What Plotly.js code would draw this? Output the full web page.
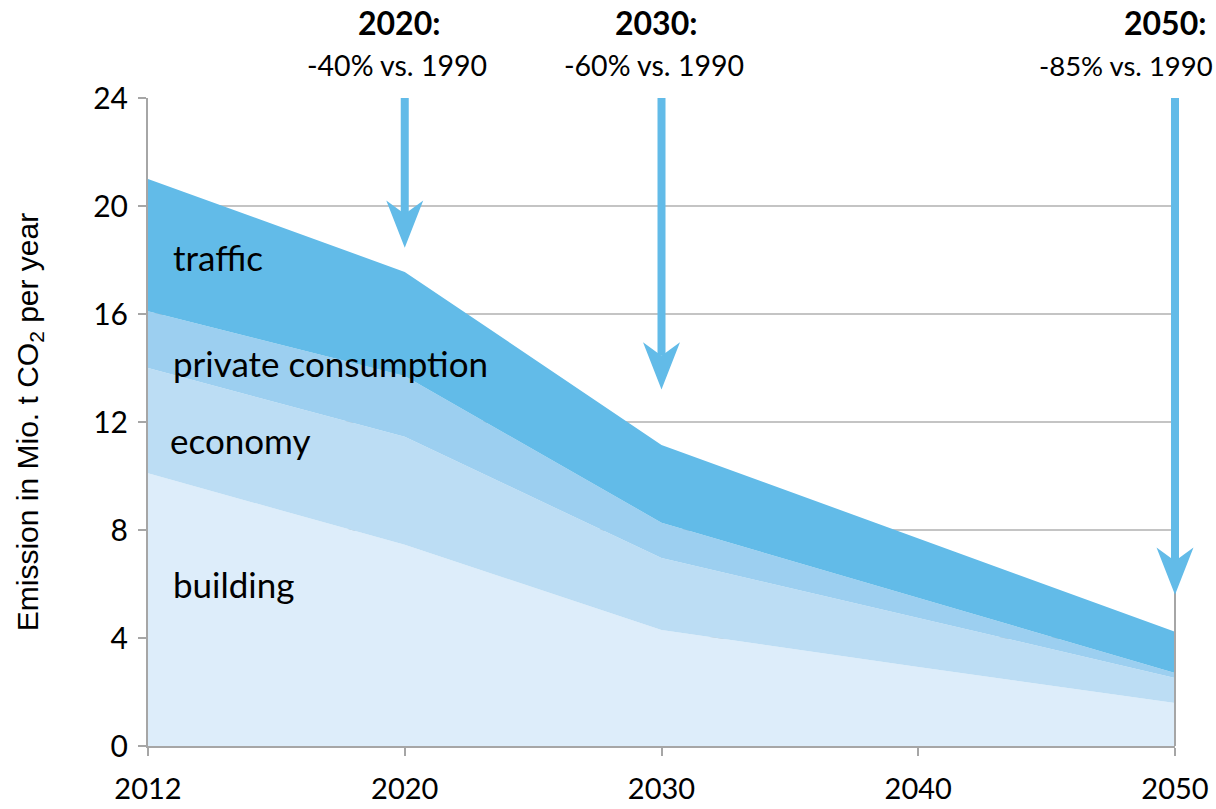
<!DOCTYPE html>
<html>
<head>
<meta charset="utf-8">
<script src="https://cdn.plot.ly/plotly-3.0.1.min.js"></script>
<style>html,body{margin:0;padding:0;background:#fff;}#chart{width:1216px;height:809px;}</style>
</head>
<body>
<div id="chart"></div>
<script>
// ---- data (Mio. t CO2 per year, stacked shares) ----
const years = ['2012', '2020', '2030', '2040', '2050'];
const building = [10.1, 7.45, 4.3, 2.93, 1.59];
const economy = [3.9, 4.0, 2.66, 1.81, 0.93];
const privateConsumption = [2.1, 2.25, 1.31, 0.74, 0.18];
const traffic = [4.9, 3.86, 2.88, 2.22, 1.53];
const seriesNames = ['building', 'economy', 'private consumption', 'traffic'];
const labelLevels = [6.0, 11.35, 14.2, 18.1];
const yTicks = [0, 4, 8, 12, 16, 20, 24];
const targetYears = ['2020', '2030', '2050'];
const targetTitles = ['2020:', '2030:', '2050:'];
const targetTexts = ['-40% vs. 1990', '-60% vs. 1990', '-85% vs. 1990'];
const targetTips = [18.45, 13.2, 5.6];

const xIdx = years.map((_, i) => i);
const yMax = 24;
const fills = ['#ddedfa', '#bcddf4', '#9ccff0', '#62bbe8'];
const arrowColor = '#62bbe8';
const calibriLike = 'Lato, "Noto Sans", sans-serif';

const seriesValues = [building, economy, privateConsumption, traffic];
const traces = seriesValues.map((vals, k) => ({
  type: 'scatter',
  mode: 'lines',
  x: xIdx,
  y: vals,
  name: seriesNames[k],
  stackgroup: 'one',
  line: {width: 0, color: fills[k]},
  fillcolor: fills[k],
  hoverinfo: 'x+y+name'
}));

const nSeg = years.length - 1;
const px = i => i / nSeg;       // x index -> paper
const py = v => v / yMax;       // y value -> paper

const shapes = [
  // right-hand border line at 2050
  {type: 'line', xref: 'paper', yref: 'paper', x0: 1, x1: 1, y0: 0, y1: 1,
   line: {color: '#a6a6a6', width: 2}, layer: 'above'}
];
const annotations = [];
const hl = 1.75;   // arrowhead length (data units)
const hw = 0.018;  // arrowhead half width (paper units)
const notch = 0.5;
targetYears.forEach((yr, i) => {
  const xi = px(years.indexOf(yr));
  const tip = targetTips[i];
  shapes.push({type: 'line', xref: 'paper', yref: 'paper', x0: xi, x1: xi, y0: 1, y1: py(tip + hl - notch),
    line: {color: arrowColor, width: 8}, layer: 'above'});
  shapes.push({type: 'path', xref: 'paper', yref: 'paper', layer: 'above',
    path: `M ${xi - hw} ${py(tip + hl)} L ${xi} ${py(tip + hl - notch)} L ${xi + hw} ${py(tip + hl)} L ${xi} ${py(tip)} Z`,
    fillcolor: arrowColor, line: {width: 0}});
  const last = i === targetYears.length - 1;
  annotations.push({xref: 'paper', yref: 'paper', x: xi, y: 1, yshift: 76, xshift: (last ? -10 : -6),
    text: '<b>' + targetTitles[i] + '</b>', showarrow: false, yanchor: 'middle', xanchor: 'center',
    font: {family: calibriLike, size: 32, color: '#000'}});
  annotations.push({xref: 'paper', yref: 'paper', x: xi, y: 1, yshift: 33, xshift: (last ? -49 : -8),
    text: targetTexts[i], showarrow: false, yanchor: 'middle', xanchor: 'center',
    font: {family: calibriLike, size: last ? 27.5 : 28.5, color: '#000'}});
});
seriesNames.forEach((nm, k) => {
  annotations.push({xref: 'x', yref: 'y', x: 0, y: labelLevels[k], xshift: (nm === 'economy' ? 20 : 23),
    text: nm, showarrow: false, xanchor: 'left', yanchor: 'middle',
    font: {family: calibriLike, size: 35, color: '#000'}});
});

const layout = {
  width: 1216, height: 809,
  margin: {l: 148, r: 41, t: 98, b: 63},
  paper_bgcolor: '#fff', plot_bgcolor: '#fff',
  showlegend: false,
  xaxis: {
    type: 'linear', range: [0, nSeg],
    tickvals: xIdx, ticktext: years,
    showgrid: false, zeroline: false,
    showline: true, linecolor: '#a6a6a6', linewidth: 2,
    ticks: 'outside', ticklen: 8, tickwidth: 2, tickcolor: '#a6a6a6',
    ticklabelstandoff: 8,
    tickfont: {family: calibriLike, size: 29, color: '#000'}
  },
  yaxis: {
    range: [0, yMax], tickvals: yTicks,
    showgrid: true, gridcolor: '#c4c4c4', gridwidth: 2,
    zeroline: false,
    showline: true, linecolor: '#a6a6a6', linewidth: 2,
    ticks: 'outside', ticklen: 8, tickwidth: 2, tickcolor: '#a6a6a6',
    ticklabelstandoff: 4,
    tickfont: {family: calibriLike, size: 30, color: '#000'},
    title: {text: 'Emission in Mio. t CO<sub>2</sub> per year', standoff: 46,
      font: {family: '"Liberation Sans Narrow", "Arial Narrow", "Liberation Sans", sans-serif', size: 30, color: '#000'}}
  },
  shapes: shapes,
  annotations: annotations
};

Plotly.newPlot('chart', traces, layout, {displayModeBar: false, responsive: false});
</script>
</body>
</html>
